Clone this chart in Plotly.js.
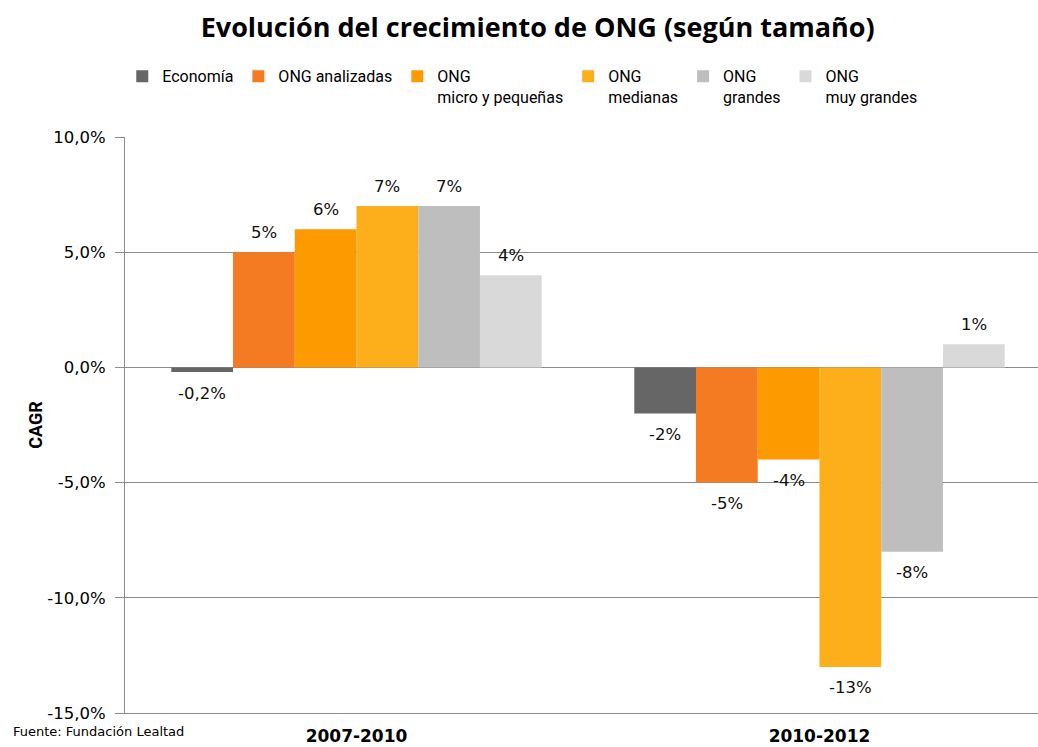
<!DOCTYPE html>
<html>
<head>
<meta charset="utf-8">
<script src="https://cdn.plot.ly/plotly-3.0.1.min.js"></script>
<style>html,body{margin:0;padding:0;background:#fff;}#chart{width:1038px;height:747px;}</style>
</head>
<body>
<div id="chart"></div>
<script>
// Data
const periods = ['2007-2010', '2010-2012'];
const seriesNames = ['Economía', 'ONG analizadas', 'ONG<br>micro y pequeñas', 'ONG<br>medianas', 'ONG<br>grandes', 'ONG<br>muy grandes'];
const economia = [-0.2, -2];
const ongAnalizadas = [5, -5];
const ongMicroPequenas = [6, -4];
const ongMedianas = [7, -13];
const ongGrandes = [7, -8];
const ongMuyGrandes = [4, 1];
const seriesValues = [economia, ongAnalizadas, ongMicroPequenas, ongMedianas, ongGrandes, ongMuyGrandes];
const seriesColors = ['#666666', '#F47B22', '#FD9A00', '#FCAF1B', '#BEBEBE', '#D9D9D9'];
const yTickVals = [-15, -10, -5, 0, 5, 10];
const yTickText = ['-15,0%', '-10,0%', '-5,0%', '0,0%', '5,0%', '10,0%'];

function fmt(v) {
  return (Number.isInteger(v) ? String(v) : String(v).replace('.', ',')) + '%';
}

const groupWidth = 0.8;
const nSeries = seriesValues.length;

const traces = seriesValues.map((vals, i) => ({
  type: 'bar',
  name: seriesNames[i],
  x: periods,
  y: vals,
  marker: {color: seriesColors[i], line: {width: 0}},
  hoverinfo: 'none'
}));

// value labels tied to each bar
const labelAnnotations = [];
seriesValues.forEach((vals, i) => {
  vals.forEach((v, j) => {
    labelAnnotations.push({
      x: j - groupWidth / 2 + (i + 0.5) * groupWidth / nSeries,
      y: v,
      xref: 'x', yref: 'y',
      text: fmt(v),
      showarrow: false,
      yanchor: 'middle',
      yshift: v >= 0 ? 20 : -21,
      font: {family: 'DejaVu Sans', size: 16.5, color: '#111'}
    });
  });
});

const layout = {
  width: 1038,
  height: 747,
  paper_bgcolor: '#fff',
  plot_bgcolor: '#fff',
  margin: {l: 125, r: 0, t: 137, b: 34},
  title: {
    text: 'Evolución del crecimiento de ONG (según tamaño)',
    font: {family: 'Open Sans', size: 27, weight: 'bold', color: '#000'},
    x: 0.518, xanchor: 'center', y: 0.963, yanchor: 'middle'
  },
  showlegend: true,
  legend: {
    orientation: 'h',
    x: -0.003, xanchor: 'left',
    y: 1.135, yanchor: 'top',
    font: {family: 'Roboto', size: 16, color: '#000'},
    valign: 'top',
    itemwidth: 30,
    traceorder: 'normal'
  },
  bargap: 1 - groupWidth,
  bargroupgap: 0,
  xaxis: {
    type: 'category',
    range: [-0.5, 1.472],
    showgrid: false,
    showline: true,
    linecolor: '#8c8c8c',
    linewidth: 1,
    ticks: '',
    tickfont: {family: 'DejaVu Sans', size: 17, weight: 'bold', color: '#000'},
    ticklabelstandoff: 8,
    fixedrange: true
  },
  yaxis: {
    range: [-15, 10],
    tickmode: 'array',
    tickvals: yTickVals,
    ticktext: yTickText,
    showgrid: true,
    gridcolor: '#8c8c8c',
    gridwidth: 1,
    zeroline: true,
    zerolinecolor: '#8c8c8c',
    zerolinewidth: 1,
    showline: true,
    linecolor: '#8c8c8c',
    ticks: 'outside',
    ticklen: 9,
    tickcolor: '#8c8c8c',
    ticklabelstandoff: 6,
    tickfont: {family: 'DejaVu Sans', size: 16.5, color: '#000'},
    title: {
      text: 'CAGR',
      font: {family: 'Roboto', size: 18, weight: 'bold', color: '#000'},
      standoff: 0
    },
    fixedrange: true
  },
  annotations: labelAnnotations.concat([{
    text: 'Fuente: Fundación Lealtad',
    xref: 'paper', yref: 'paper',
    x: -114/913, xanchor: 'left',
    y: -18/576, yanchor: 'middle',
    showarrow: false,
    font: {family: 'DejaVu Sans', size: 13, color: '#000'}
  }])
};

Plotly.newPlot('chart', traces, layout, {displayModeBar: false, staticPlot: true});
</script>
</body>
</html>
